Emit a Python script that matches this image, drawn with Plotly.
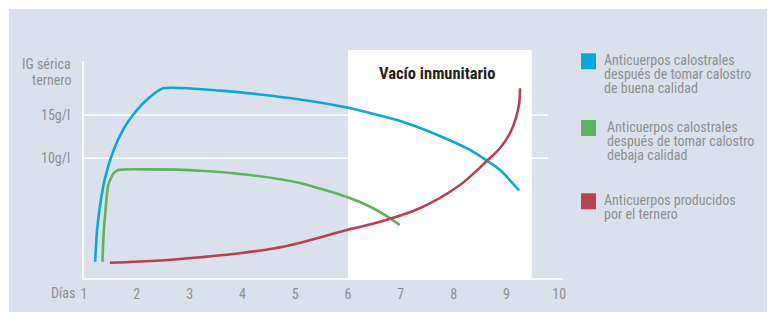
import plotly.graph_objects as go

# ---------------- data ----------------
DAYS_TICKS = [1, 2, 3, 4, 5, 6, 7, 8, 9, 10]
DAYS_TICK_TEXT = ["1", "2", "3", "4", "5", "6", "7", "8", "9", "10"]
IG_TICKS = [10, 15]
IG_TICK_TEXT = ["10g/l", "15g/l"]

DAYS_GOOD = [1.21, 1.25, 1.30, 1.40, 1.55, 1.74, 1.93, 2.19, 2.50, 3.58, 4.33, 5.09, 5.98, 6.99, 7.74, 8.31, 8.88, 9.24]
IG_GOOD = [-1.95, 1.87, 4.41, 7.76, 10.76, 13.30, 15.03, 16.77, 18.08, 17.81, 17.37, 16.79, 15.87, 14.31, 12.58, 10.96, 8.65, 6.28]

DAYS_BAD = [1.35, 1.37, 1.40, 1.46, 1.56, 1.65, 2.25, 3.20, 4.14, 5.09, 5.98, 6.42, 6.80, 6.98]
IG_BAD = [-1.95, 1.14, 3.45, 6.92, 8.27, 8.65, 8.72, 8.57, 8.07, 7.15, 5.53, 4.41, 3.07, 2.30]

DAYS_CALF = [1.49, 2.44, 3.20, 3.82, 4.77, 5.98, 6.61, 7.36, 8.12, 8.63, 8.88, 9.07, 9.18, 9.24, 9.26]
IG_CALF = [-2.06, -1.80, -1.43, -1.05, -0.21, 1.72, 2.68, 4.23, 6.92, 9.69, 11.19, 12.92, 14.64, 16.26, 18.08]

GAP_START, GAP_END = 6.0, 9.48
GAP_LABEL = "Vacío inmunitario"
Y_TITLE = ["IG sérica", "ternero"]
X_TITLE = "Días"

SERIES_NAMES = [
    ["Anticuerpos calostrales", "después de tomar calostro", "de buena calidad"],
    ["Anticuerpos calostrales", "después de tomar calostro", "debaja calidad"],
    ["Anticuerpos producidos", "por el ternero"],
]

# ---------------- style ----------------
W, H = 770, 312
L, R, T, B = 84, 207, 61, 34
PW, PH = W - L - R, H - T - B
PANEL = "#dbe1ec"
GREY = "#8f8f8f"
COLORS = ["#0aa7d7", "#5cb45f", "#b8404f"]
SMOOTH = [0.6, 0.6, 1.0]
FONT = "Liberation Sans Narrow, Arial Narrow, Roboto Condensed, DejaVu Sans Condensed, sans-serif"


def px(x):
    return (x - L) / PW


def py(y):
    return (H - B - y) / PH


fig = go.Figure()
for (xs, ys), c, s in zip([(DAYS_GOOD, IG_GOOD), (DAYS_BAD, IG_BAD), (DAYS_CALF, IG_CALF)], COLORS, SMOOTH):
    fig.add_trace(go.Scatter(x=xs, y=ys, mode="lines", line=dict(color=c, width=2.6, shape="spline", smoothing=s),
                             showlegend=False, hoverinfo="skip"))

shapes = [
    dict(type="rect", xref="paper", yref="paper", x0=px(9), x1=px(767), y0=py(330), y1=py(9),
         fillcolor=PANEL, line_width=0, layer="below"),
]
for v in IG_TICKS:
    shapes.append(dict(type="line", xref="x", yref="y", x0=1, x1=9.79, y0=v, y1=v,
                       line=dict(color="white", width=1.5), layer="below"))
shapes.append(dict(type="rect", xref="x", yref="paper", x0=GAP_START, x1=GAP_END, y0=0, y1=py(50),
                   fillcolor="white", line_width=0, layer="below"))

annotations = [
    dict(text="<b>" + GAP_LABEL + "</b>", xref="paper", yref="paper", x=px(437), y=py(73),
         xanchor="center", yanchor="middle", showarrow=False,
         font=dict(family=FONT, size=16.5, color="#231f20")),
    dict(text=X_TITLE, xref="paper", yref="paper", x=px(77), y=py(293), xanchor="right", yanchor="middle",
         showarrow=False, font=dict(family=FONT, size=14, color=GREY)),
]
for i, t in enumerate(Y_TITLE):
    annotations.append(dict(text=t, xref="paper", yref="paper", x=px(73), y=py(63.5 + 16 * i),
                            xanchor="right", yanchor="middle", showarrow=False,
                            font=dict(family=FONT, size=14, color=GREY)))

sq_top = [53.3, 120, 193.3]
txt_x = [602, 605, 602]
for i, lines in enumerate(SERIES_NAMES):
    shapes.append(dict(type="rect", xref="paper", yref="paper", x0=px(581), x1=px(596),
                       y0=py(sq_top[i] + 16), y1=py(sq_top[i]), fillcolor=COLORS[i], line_width=0))
    for j, t in enumerate(lines):
        annotations.append(dict(text=t, xref="paper", yref="paper", x=px(txt_x[i]), y=py(sq_top[i] + 7 + 14 * j),
                                xanchor="left", yanchor="middle", showarrow=False,
                                font=dict(family=FONT, size=14, color=GREY)))

fig.update_layout(
    width=W, height=H, margin=dict(l=L, r=R, t=T, b=B, autoexpand=False),
    paper_bgcolor="white", plot_bgcolor="rgba(0,0,0,0)",
    shapes=shapes, annotations=annotations, showlegend=False,
    xaxis=dict(range=[1, 1 + (563 - 84) / 52.8], tickvals=DAYS_TICKS, ticktext=DAYS_TICK_TEXT,
               showgrid=False, zeroline=False, showline=True, linecolor="white", linewidth=2, automargin=False,
               ticks="", tickfont=dict(family=FONT, size=14, color=GREY), ticklabelstandoff=2),
    yaxis=dict(range=[(244.9 - 278) / 8.66, (244.9 - 61) / 8.66], tickvals=IG_TICKS, ticktext=IG_TICK_TEXT,
               showgrid=False, zeroline=False, showline=True, linecolor="white", linewidth=2, automargin=False,
               ticks="", tickfont=dict(family=FONT, size=14, color=GREY), ticklabelstandoff=9),
)

fig.write_html("out.html", config={"displayModeBar": False},
               post_script="document.body.style.margin='0';document.body.style.overflow='hidden';")
